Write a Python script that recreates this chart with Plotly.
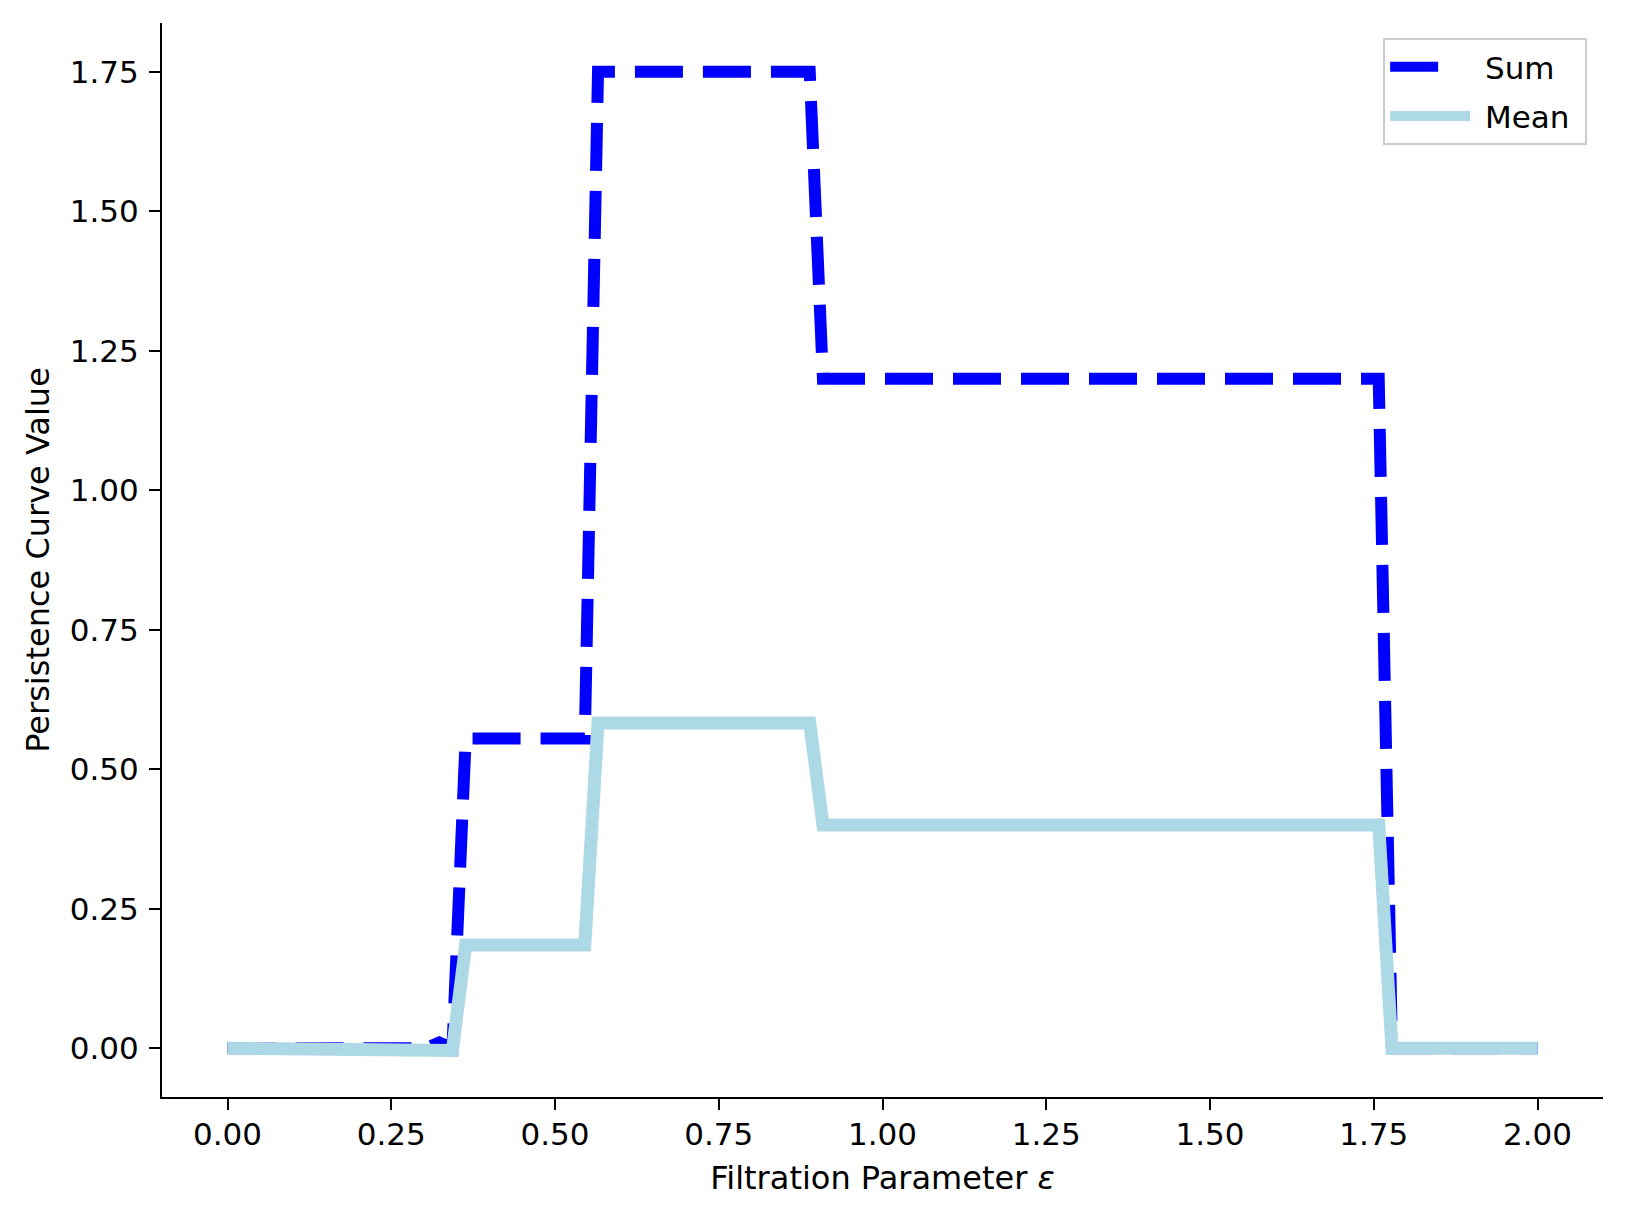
import plotly.graph_objects as go

# Vertices of the step curves (x in filtration parameter units)
eps = [0.0, 0.3030, 0.3232, 0.3434, 0.3636, 0.5455, 0.5657, 0.8889, 0.9091, 1.7576, 1.7778, 2.0]
sum_curve = [0.0, 0.0, 0.01, 0.0, 0.555, 0.555, 1.75, 1.75, 1.2, 1.2, 0.0, 0.0]
mean_curve = [0.0, 0.0, 0.0, -0.004, 0.185, 0.185, 0.583, 0.583, 0.4, 0.4, 0.0, 0.0]

x_ticks = [0.0, 0.25, 0.5, 0.75, 1.0, 1.25, 1.5, 1.75, 2.0]
y_ticks = [0.0, 0.25, 0.5, 0.75, 1.0, 1.25, 1.5, 1.75]

FONT = "DejaVu Sans"
TICK_FS = 31
LABEL_FS = 32
NB = "\u00a0"

fig = go.Figure()
fig.add_trace(go.Scatter(
    x=eps, y=sum_curve, mode="lines", name="Sum", showlegend=False,
    line=dict(color="#0000ff", width=12, dash="48px,20px"),
))
fig.add_trace(go.Scatter(
    x=eps, y=mean_curve, mode="lines", name="Mean", showlegend=False,
    line=dict(color="#add8e6", width=13),
))
# legend entries
fig.add_trace(go.Scatter(
    x=[None], y=[None], mode="lines", name=NB + "Sum" + NB, legendgroup="a",
    line=dict(color="#0000ff", width=12, dash="48px,200px"),
))
fig.add_trace(go.Scatter(
    x=[None], y=[None], mode="lines", name=NB + "Mean" + NB, legendgroup="b",
    line=dict(color="#add8e6", width=12),
))

axis_common = dict(
    showgrid=False, zeroline=False, showline=True, linecolor="black", linewidth=2.2,
    ticks="outside", ticklen=11, tickwidth=2.2, tickcolor="black",
    tickfont=dict(family=FONT, size=TICK_FS, color="black"),
    tickformat=".2f", mirror=False,
)

fig.update_layout(
    width=1627, height=1219,
    paper_bgcolor="white", plot_bgcolor="white",
    margin=dict(l=162, r=24, t=23, b=122, autoexpand=False),
    font=dict(family=FONT, size=TICK_FS, color="black"),
    xaxis=dict(range=[-0.1, 2.1], tickvals=x_ticks, ticklabelstandoff=-2,
               title=dict(text="Filtration Parameter <i>ε</i>", font=dict(family=FONT, size=LABEL_FS), standoff=15),
               **axis_common),
    yaxis=dict(range=[-0.0875, 1.8375], tickvals=y_ticks, ticklabelstandoff=4,
               title=dict(text="Persistence Curve Value", font=dict(family=FONT, size=LABEL_FS), standoff=10),
               **axis_common),
    showlegend=True,
    legend=dict(
        x=0.989, y=0.986, xanchor="right", yanchor="top",
        bgcolor="rgba(255,255,255,0.8)", bordercolor="#cccccc", borderwidth=2,
        font=dict(family=FONT, size=TICK_FS, color="black"),
        itemwidth=80, tracegroupgap=6,
    ),
)

fig.write_html(
    "out.html",
    config={"displayModeBar": False},
    post_script="document.documentElement.style.margin='0';document.body.style.margin='0';document.body.style.overflow='hidden';",
)
